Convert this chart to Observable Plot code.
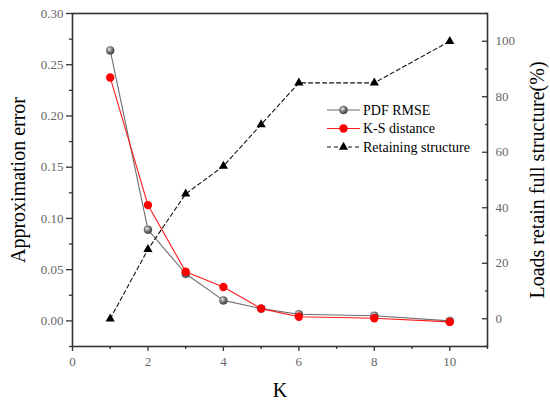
<!DOCTYPE html>
<html><head><meta charset="utf-8">
<script src="https://cdn.jsdelivr.net/npm/d3@7"></script>
<script src="https://cdn.jsdelivr.net/npm/@observablehq/plot@0.6"></script>
<style>
body{margin:0;background:#fff}
#wrap{position:relative;width:550px;height:400px}
#legend{position:absolute;left:0;top:0;pointer-events:none}
#wrap svg, #wrap svg text{font-family:"Liberation Serif","DejaVu Serif",serif !important}
</style>
</head><body><div id="wrap"></div>
<script>
// ---- data ----
const K = [1, 2, 3, 4, 5, 6, 8, 10];
const pdfRmse = [0.264, 0.089, 0.046, 0.020, 0.012, 0.0065, 0.005, 0.000];
const ksDistance = [0.2375, 0.113, 0.048, 0.033, 0.012, 0.004, 0.0025, -0.001];
const retaining = [0, 25, 45, 55, 70, 85, 85, 100];

const seriesNames = ["PDF RMSE", "K-S distance", "Retaining structure"];
const leftMajor = [0, 0.05, 0.10, 0.15, 0.20, 0.25, 0.30];
const leftMinor = [-0.025, 0.025, 0.075, 0.125, 0.175, 0.225, 0.275];
const rightMajor = [0, 20, 40, 60, 80, 100];
const rightMinor = [-10, 10, 30, 50, 70, 90, 110];
const xMajor = [0, 2, 4, 6, 8, 10];
const xMinor = [1, 3, 5, 7, 9, 11];

const xTitle = "K";
const yTitle = "Approximation error";
const y2Title = "Loads retain full structure(%)";

// ---- scales ----
const yDomain = [-0.025, 0.30];
const rDomain = [-10, 110];
const toLeft = v => yDomain[0] + (v - rDomain[0]) / (rDomain[1] - rDomain[0]) * (yDomain[1] - yDomain[0]);

const rows = K.map((k, i) => ({k, pdf: pdfRmse[i], ks: ksDistance[i], ret: toLeft(retaining[i])}));

const serif = "Liberation Serif, DejaVu Serif, serif";
const axisColor = "#333";
const labelColor = "#666";

const plot = Plot.plot({
  width: 550, height: 400,
  marginLeft: 72, marginRight: 63, marginTop: 13, marginBottom: 54,
  style: {fontFamily: serif, background: "#fff"},
  x: {domain: [0, 11], axis: null},
  y: {domain: yDomain, axis: null},
  marks: [
    // bottom axis
    Plot.axisX({ticks: xMajor, tickSize: 5, tickPadding: 5, fontSize: 13, fill: labelColor, stroke: axisColor, strokeWidth: 1.3, tickFormat: d3.format("d"), label: null}),
    Plot.axisX({ticks: xMinor, tickSize: 3, stroke: axisColor, strokeWidth: 1.3, fill: "none", label: null}),
    // left axis
    Plot.axisY({ticks: leftMajor, tickSize: 6, tickPadding: 3, fontSize: 13, fill: labelColor, stroke: axisColor, strokeWidth: 1.3, tickFormat: d3.format(".2f"), label: null}),
    Plot.axisY({ticks: leftMinor, tickSize: 3, stroke: axisColor, strokeWidth: 1.3, fill: "none", label: null}),
    // right axis (ticks pointing inward)
    Plot.axisY({anchor: "right", ticks: rightMajor.map(toLeft), tickSize: 6, insetRight: 6, stroke: axisColor, strokeWidth: 1.3, fill: "none", label: null}),
    Plot.axisY({anchor: "right", ticks: rightMinor.map(toLeft), tickSize: 3, insetRight: 3, stroke: axisColor, strokeWidth: 1.3, fill: "none", label: null}),
    Plot.axisY({anchor: "right", ticks: rightMajor.map(toLeft), tickSize: 0, tickPadding: 8, fontSize: 13, fill: labelColor, tickFormat: (d, i) => String(rightMajor[i]), label: null}),
    Plot.frame({stroke: axisColor, strokeWidth: 1.6}),
    // titles
    Plot.text([xTitle], {text: d => d, frameAnchor: "bottom", dy: 44, fontSize: 20, fill: "#000", lineAnchor: "middle", textAnchor: "middle"}),
    Plot.text([yTitle], {text: d => d, frameAnchor: "left", dx: -54, rotate: -90, fontSize: 20, fill: "#000", lineAnchor: "middle", textAnchor: "middle"}),
    Plot.text([y2Title], {text: d => d, frameAnchor: "right", dx: 50, rotate: -90, fontSize: 20, fill: "#000", lineAnchor: "middle", textAnchor: "middle"}),
    // series
    Plot.line(rows, {x: "k", y: "pdf", stroke: "#6e6e6e", strokeWidth: 1.1}),
    Plot.dot(rows, {x: "k", y: "pdf", r: 4, fill: "url(#ball)", stroke: "#555", strokeWidth: 0.5}),
    Plot.line(rows, {x: "k", y: "ks", stroke: "#ff1a1a", strokeWidth: 1.1}),
    Plot.dot(rows, {x: "k", y: "ks", r: 4.2, fill: "#ff0000", stroke: "none"}),
    Plot.line(rows, {x: "k", y: "ret", stroke: "#111", strokeWidth: 1.1, strokeDasharray: "4,3"}),
    Plot.dot(rows, {x: "k", y: "ret", symbol: "triangle", r: 3.4, fill: "#000", stroke: "none"})
  ]
});

// gradient for the gray spheres
function addBall(sel, id) {
  const g = sel.append("radialGradient").attr("id", id).attr("cx", "38%").attr("cy", "35%").attr("r", "65%");
  g.append("stop").attr("offset", "0%").attr("stop-color", "#e8e8e8");
  g.append("stop").attr("offset", "55%").attr("stop-color", "#7a7a7a");
  g.append("stop").attr("offset", "100%").attr("stop-color", "#3c3c3c");
}
addBall(d3.select(plot).insert("defs", ":first-child"), "ball");

const wrap = document.getElementById("wrap");
wrap.appendChild(plot);

// legend overlay
const leg = d3.select(wrap).append("svg").attr("id", "legend").attr("width", 550).attr("height", 400);
addBall(leg.append("defs"), "ball2");
const legX = 327, legY = 110, legStep = 18.5, legLen = 33;
seriesNames.forEach((name, i) => {
  const y = legY + i * legStep;
  const row = leg.append("g").attr("transform", `translate(${legX},${y})`);
  if (i === 0) {
    row.append("line").attr("x1", 0).attr("x2", legLen).attr("stroke", "#6e6e6e").attr("stroke-width", 1.1);
    row.append("circle").attr("cx", legLen / 2).attr("r", 4).attr("fill", "url(#ball2)").attr("stroke", "#555").attr("stroke-width", 0.5);
  } else if (i === 1) {
    row.append("line").attr("x1", 0).attr("x2", legLen).attr("stroke", "#ff1a1a").attr("stroke-width", 1.1);
    row.append("circle").attr("cx", legLen / 2).attr("r", 4.2).attr("fill", "#ff0000");
  } else {
    row.append("line").attr("x1", 0).attr("x2", legLen).attr("stroke", "#111").attr("stroke-width", 1.1).attr("stroke-dasharray", "4,3");
    row.append("path").attr("transform", `translate(${legLen / 2},0)`).attr("d", d3.symbol(d3.symbolTriangle, Math.PI * 3.4 * 3.4)()).attr("fill", "#000");
  }
  row.append("text").attr("x", legLen + 3).attr("y", 0).attr("dy", "0.35em").attr("font-size", 14).attr("fill", "#000").text(name);
});
</script>
</body></html>
